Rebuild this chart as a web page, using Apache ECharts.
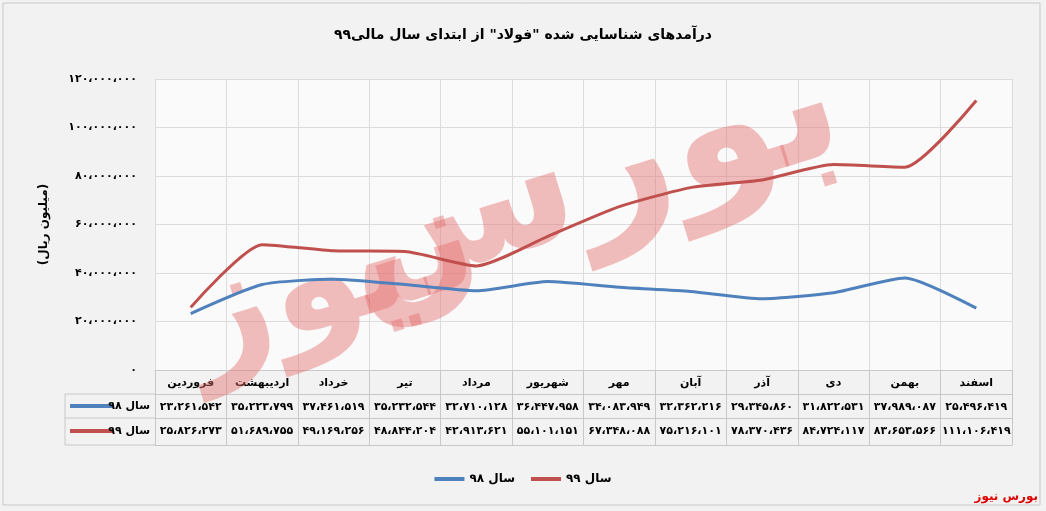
<!DOCTYPE html>
<html><head><meta charset="utf-8">
<script src="https://cdn.jsdelivr.net/npm/echarts@6/dist/echarts.min.js"></script>
<style>html,body{margin:0;padding:0;background:#f2f2f2;}#c{width:1046px;height:511px;}</style>
</head><body><div id="c"></div>
<script>
const categories = ['فروردین','اردیبهشت','خرداد','تیر','مرداد','شهریور','مهر','آبان','آذر','دی','بهمن','اسفند'];
const series98 = [23261542,35223799,37461519,35232544,32710128,36447958,34083949,32362216,29345860,31822531,37989087,25496419];
const series99 = [25826273,51689755,49169256,48844204,42913621,55101151,67348088,75216101,78370436,84724117,83653566,111106419];
const name98 = 'سال ۹۸';
const name99 = 'سال ۹۹';
const titleText = 'درآمدهای شناسایی شده "فولاد" از ابتدای سال مالی۹۹';
const yName = '(میلیون ریال)';

const FONT = 'DejaVu Sans';
function fa(n){
  const s = Math.round(n).toString().replace(/\B(?=(\d{3})+(?!\d))/g, '،');
  return s.replace(/\d/g, d => '۰۱۲۳۴۵۶۷۸۹'[+d]);
}
const chart = echarts.init(document.getElementById('c'));
const gridLine = '#c8c8c8';
const lbl = {fontFamily: FONT, fontWeight: 'bold', fontSize: 11, color: '#000'};
chart.setOption({
  backgroundColor: '#f2f2f2',
  animation: false,
  title: {text: titleText, left: 'center', top: 23, textStyle: {fontFamily: FONT, fontWeight: 'bold', fontSize: 14, color: '#000'}},
  legend: {
    data: [name98, name99], bottom: 21, left: 'center', itemGap: 16, itemWidth: 30, itemHeight: 4, icon: 'rect',
    textStyle: {fontFamily: FONT, fontWeight: 'bold', fontSize: 12, color: '#000'}
  },
  grid: {left: 155, right: 34, top: 79, bottom: 141, show: true, backgroundColor: '#fafafa', borderWidth: 0},
  xAxis: [
    {type: 'category', data: categories, position: 'bottom', boundaryGap: true,
     axisLine: {show: true, lineStyle: {color: gridLine}},
     axisTick: {show: true, length: 75, interval: 0, lineStyle: {color: gridLine}},
     axisLabel: Object.assign({margin: 8, interval: 0}, lbl),
     splitLine: {show: true, interval: 0, lineStyle: {color: '#dcdcdc'}}},
    {type: 'category', data: categories, position: 'bottom', offset: 24, gridIndex: 0,
     axisLine: {show: true, lineStyle: {color: gridLine}}, axisTick: {show: false},
     axisLabel: Object.assign({margin: 8, interval: 0, formatter: (v, i) => fa(series98[i])}, lbl)},
    {type: 'category', data: categories, position: 'bottom', offset: 48, gridIndex: 0,
     axisLine: {show: true, lineStyle: {color: gridLine}}, axisTick: {show: false},
     axisLabel: Object.assign({margin: 8, interval: 0, formatter: (v, i) => fa(series99[i])}, lbl)},
    {type: 'category', data: categories, position: 'bottom', offset: 75, gridIndex: 0,
     axisLine: {show: true, lineStyle: {color: gridLine}}, axisTick: {show: false}, axisLabel: {show: false}}
  ],
  yAxis: {
    type: 'value', min: 0, max: 120000000, interval: 20000000,
    name: yName, nameLocation: 'middle', nameGap: 105, nameRotate: 90,
    nameTextStyle: {fontFamily: FONT, fontWeight: 'bold', fontSize: 12, color: '#000'},
    axisLine: {show: false}, axisTick: {show: false},
    axisLabel: Object.assign({margin: 18, formatter: v => fa(v)}, lbl),
    splitLine: {lineStyle: {color: '#dcdcdc'}}
  },
  graphic: [
    {type: 'rect', shape: {x: 3, y: 3, width: 1037, height: 502}, style: {fill: 'none', stroke: '#c8c8c8', lineWidth: 1}, z: 0},
    {type: 'text', x: 590, y: 180, rotation: 0.3, z: 3, style: {text: 'بورس', font: 'bold 175px "DejaVu Sans"', fill: 'rgba(228,110,110,0.45)', textAlign: 'center', textVerticalAlign: 'middle'}},
    {type: 'text', x: 330, y: 285, rotation: 0.3, z: 3, style: {text: 'نیوز', font: 'bold 150px "DejaVu Sans"', fill: 'rgba(228,110,110,0.45)', textAlign: 'center', textVerticalAlign: 'middle'}},
    {type: 'line', shape: {x1: 65, y1: 394, x2: 155, y2: 394}, style: {stroke: gridLine}},
    {type: 'line', shape: {x1: 65, y1: 418, x2: 155, y2: 418}, style: {stroke: gridLine}},
    {type: 'line', shape: {x1: 65, y1: 445, x2: 155, y2: 445}, style: {stroke: gridLine}},
    {type: 'line', shape: {x1: 65, y1: 394, x2: 65, y2: 445}, style: {stroke: gridLine}},
    {type: 'line', shape: {x1: 70, y1: 406, x2: 113, y2: 406}, style: {stroke: '#4f81bd', lineWidth: 4}},
    {type: 'line', shape: {x1: 70, y1: 431, x2: 113, y2: 431}, style: {stroke: '#c0504d', lineWidth: 4}},
    {type: 'text', x: 150, y: 406, style: {text: name98, font: 'bold 11px "DejaVu Sans"', fill: '#000', textAlign: 'right', textVerticalAlign: 'middle'}},
    {type: 'text', x: 150, y: 431, style: {text: name99, font: 'bold 11px "DejaVu Sans"', fill: '#000', textAlign: 'right', textVerticalAlign: 'middle'}},
    {type: 'text', x: 1038, y: 497, style: {text: 'بورس نیوز', font: 'bold 12px "DejaVu Sans"', fill: '#e00000', textAlign: 'right', textVerticalAlign: 'middle'}}
  ],
  series: [
    {name: name98, type: 'line', data: series98, smooth: 0.2, showSymbol: false, color: '#4f81bd', lineStyle: {width: 3}, z: 4},
    {name: name99, type: 'line', data: series99, smooth: 0.2, showSymbol: false, color: '#c0504d', lineStyle: {width: 3}, z: 4}
  ]
});
</script></body></html>
